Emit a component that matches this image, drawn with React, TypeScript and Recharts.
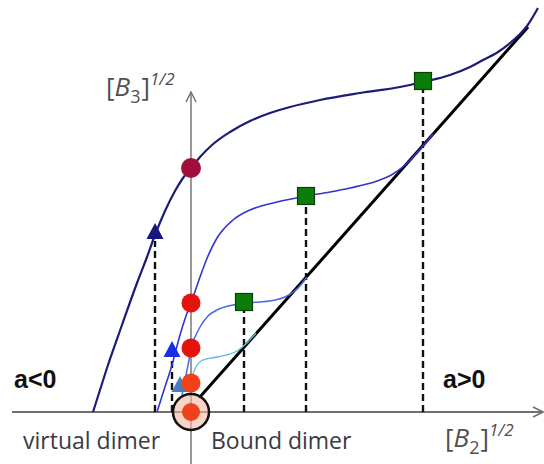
import React from 'react';
import { ComposedChart, Line, Scatter, XAxis, YAxis, ReferenceLine } from 'recharts';

// x = [B2]^1/2, y = [B3]^1/2 (schematic units, origin where the axes cross)
const axisH = [{ x: -179, y: 0 }, { x: 352, y: 0 }];
const arrowH = [{ x: 342, y: 5 }, { x: 352, y: 0 }, { x: 342, y: -5 }];
const axisV = [{ x: 0, y: -52 }, { x: 0, y: 320 }];
const arrowV = [{ x: -5, y: 310 }, { x: 0, y: 320 }, { x: 5, y: 310 }];

const boundLine = [{ x: 8, y: 14 }, { x: 337, y: 385 }];

const curveA = [
  { x: -98, y: 0 }, { x: -91, y: 22 }, { x: -83, y: 47 }, { x: -69, y: 87 },
  { x: -54, y: 129 }, { x: -44, y: 155 }, { x: -36, y: 177 }, { x: -26, y: 201 },
  { x: -16, y: 221 }, { x: -8, y: 234 }, { x: 0, y: 244 }, { x: 9, y: 255 },
  { x: 21, y: 267 }, { x: 39, y: 280 }, { x: 59, y: 291 }, { x: 79, y: 299 },
  { x: 99, y: 305 }, { x: 129, y: 312 }, { x: 169, y: 319 }, { x: 209, y: 325 },
  { x: 232, y: 330 }, { x: 259, y: 337 }, { x: 279, y: 345 }, { x: 292, y: 352 },
  { x: 307, y: 360 }, { x: 319, y: 369 }, { x: 329, y: 378 }, { x: 336, y: 386 },
  { x: 347, y: 404 },
];

const curveB = [
  { x: -34, y: 0 }, { x: -27, y: 22 }, { x: -19, y: 47 }, { x: -11, y: 77 },
  { x: -5, y: 96 }, { x: 0, y: 109 }, { x: 9, y: 135 }, { x: 17, y: 156 },
  { x: 26, y: 174 }, { x: 42, y: 192 }, { x: 59, y: 202 }, { x: 86, y: 210 },
  { x: 115, y: 216 }, { x: 139, y: 220 }, { x: 159, y: 224 }, { x: 186, y: 231 },
  { x: 202, y: 238 }, { x: 214, y: 247 }, { x: 224, y: 257 }, { x: 232, y: 266 },
  { x: 242, y: 278 },
];

const curveC = [
  { x: -9, y: 17 }, { x: -5, y: 37 }, { x: -2, y: 52 }, { x: 0, y: 64 },
  { x: 5, y: 77 }, { x: 9, y: 85 }, { x: 17, y: 96 }, { x: 26, y: 102 },
  { x: 42, y: 107 }, { x: 53, y: 109 }, { x: 69, y: 110 }, { x: 84, y: 112 },
  { x: 94, y: 115 }, { x: 106, y: 123 }, { x: 116, y: 135 },
];

const curveD = [
  { x: -1, y: 17 }, { x: 1, y: 34 }, { x: 5, y: 45 }, { x: 12, y: 52 },
  { x: 26, y: 55 }, { x: 46, y: 61 }, { x: 56, y: 69 }, { x: 65, y: 79 },
];

const maroonDot = [{ x: 0, y: 244 }];
const redDots = [{ x: 0, y: 109 }, { x: 0, y: 64 }];
const orangeDot = [{ x: 0, y: 29 }];
const originDot = [{ x: 0, y: 0 }];
const squares = [{ x: 53, y: 110 }, { x: 115, y: 216 }, { x: 232, y: 331 }];
const navyTri = [{ x: -36, y: 180 }];
const blueTri = [{ x: -19, y: 62 }];
const steelTri = [{ x: -11, y: 27 }];

// drop lines: x position and top end
const dropX = [-36, -19, 53, 115, 232];
const dropTop = [171, 54, 101, 207, 322];

const dot = (fill: string, r: number) => (p: any) => (
  <circle cx={p.cx} cy={p.cy} r={r} fill={fill} />
);

const square = (p: any) => (
  <rect x={p.cx - 8.5} y={p.cy - 8.5} width={17} height={17} fill="#0b7d0b" stroke="#0a3f0a" strokeWidth={1.2} />
);

const tri = (fill: string) => (p: any) => (
  <polygon points={`${p.cx},${p.cy - 9} ${p.cx - 8.5},${p.cy + 7} ${p.cx + 8.5},${p.cy + 7}`} fill={fill} />
);

const origin = (p: any) => (
  <g>
    <circle cx={p.cx} cy={p.cy} r={18} fill="#f4b6a4" fillOpacity={0.6} stroke="#111" strokeWidth={2.5} />
    <circle cx={p.cx} cy={p.cy} r={9} fill="#f0421a" />
  </g>
);

const plain = { dot: false, activeDot: false, isAnimationActive: false, dataKey: 'y' } as const;

const AxisTitle = ({ x, y, sub }: { x: number; y: number; sub: string }) => (
  <text x={x} y={y} fontFamily="Open Sans" fontSize={26} fill="#505050">
    [<tspan fontStyle="italic">B</tspan>
    <tspan fontSize={18} dy={7}>{sub}</tspan>
    <tspan dy={-7} dx={1}>]</tspan>
    <tspan fontSize={17} fontStyle="italic" dy={-11}>1/2</tspan>
  </text>
);

export default function App() {
  return (
    <div style={{ position: 'absolute', left: 0, top: 0, width: 544, height: 464, background: '#fff' }}>
      <ComposedChart width={544} height={464} margin={{ top: 0, right: 0, bottom: 0, left: 0 }}>
        <XAxis type="number" dataKey="x" domain={[-191, 353]} hide allowDataOverflow />
        <YAxis type="number" dataKey="y" domain={[-52, 412]} hide allowDataOverflow />

        <Line {...plain} data={axisH} type="linear" stroke="#6f6f6f" strokeWidth={1.8} />
        <Line {...plain} data={arrowH} type="linear" stroke="#6f6f6f" strokeWidth={1.6} />
        <Line {...plain} data={axisV} type="linear" stroke="#6f6f6f" strokeWidth={1.4} />
        <Line {...plain} data={arrowV} type="linear" stroke="#6f6f6f" strokeWidth={1.4} />

        {dropX.map((x, i) => (
          <ReferenceLine
            key={i}
            segment={[{ x, y: 0 }, { x, y: dropTop[i] }]}
            stroke="#111"
            strokeWidth={2.4}
            strokeDasharray="7 4"
          />
        ))}

        <Line {...plain} data={boundLine} type="linear" stroke="#000" strokeWidth={3} />
        <Line {...plain} data={curveD} type="monotone" stroke="#5ab8dc" strokeWidth={1.3} />
        <Line {...plain} data={curveC} type="monotone" stroke="#4a6ade" strokeWidth={1.5} />
        <Line {...plain} data={curveB} type="monotone" stroke="#3434d0" strokeWidth={1.6} />
        <Line {...plain} data={curveA} type="monotone" stroke="#1c1c78" strokeWidth={2.2} />

        <Scatter data={steelTri} shape={tri('#4a7cc0')} isAnimationActive={false} />
        <Scatter data={navyTri} shape={tri('#16167e')} isAnimationActive={false} />
        <Scatter data={blueTri} shape={tri('#1a2ee6')} isAnimationActive={false} />
        <Scatter data={originDot} shape={origin} isAnimationActive={false} />
        <Scatter data={orangeDot} shape={dot('#f2401a', 9.5)} isAnimationActive={false} />
        <Scatter data={redDots} shape={dot('#e3140e', 9.5)} isAnimationActive={false} />
        <Scatter data={maroonDot} shape={dot('#a1103c', 10)} isAnimationActive={false} />
        <Scatter data={squares} shape={square} isAnimationActive={false} />
      </ComposedChart>

      <svg width={544} height={464} style={{ position: 'absolute', left: 0, top: 0, pointerEvents: 'none' }}>
        <AxisTitle x={106} y={96} sub="3" />
        <AxisTitle x={445} y={447} sub="2" />
        <text x={14} y={388} fontFamily="Liberation Sans" fontWeight="bold" fontSize={25} fill="#111">a&lt;0</text>
        <text x={443} y={388} fontFamily="Liberation Sans" fontWeight="bold" fontSize={25} fill="#111">a&gt;0</text>
        <text x={23} y={449} fontFamily="Open Sans" fontSize={23} fill="#3a3a44">virtual dimer</text>
        <text x={211} y={449} fontFamily="Open Sans" fontSize={23} fill="#3a3a44">Bound dimer</text>
      </svg>
    </div>
  );
}
